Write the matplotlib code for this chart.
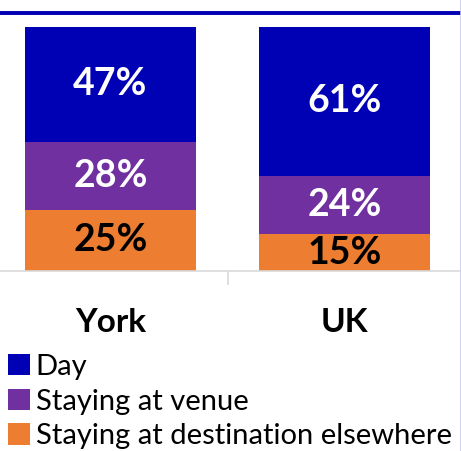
import matplotlib
matplotlib.use("Agg")
import matplotlib.pyplot as plt
from matplotlib.patches import Patch
from matplotlib.lines import Line2D

categories = ["York", "UK"]
series_names = ["Day", "Staying at venue", "Staying at destination elsewhere"]
day = [47, 61]
venue = [28, 24]
elsewhere = [25, 15]
colors = ["#0000B4", "#7030A0", "#ED7D31"]
label_colors = ["white", "white", "black"]

W, H = 461, 451
fig = plt.figure(figsize=(W / 100, H / 100), dpi=100)
plt.rcParams["font.family"] = ["Lato", "DejaVu Sans"]

ax_left, ax_right = 0, 459
ax_top, ax_bottom = 27, 271
ax = fig.add_axes([ax_left / W, 1 - ax_bottom / H, (ax_right - ax_left) / W, (ax_bottom - ax_top) / H])

x = list(range(len(categories)))
# stack from bottom: elsewhere, venue, day
stack = [(elsewhere, colors[2], label_colors[2]),
         (venue, colors[1], label_colors[1]),
         (day, colors[0], label_colors[0])]
bottoms = [0] * len(categories)
for vals, col, lc in stack:
    ax.bar(x, vals, bottom=bottoms, width=0.73, color=col, edgecolor="none")
    for xi, v, b in zip(x, vals, bottoms):
        ax.text(xi, b + v / 2, f"{v}%", ha="center", va="center", color=lc,
                fontsize=27, fontweight="bold")
    bottoms = [b + v for b, v in zip(bottoms, vals)]

ax.set_xlim(-0.472, 1.489)
ax.set_ylim(0, 100)
for s in ["top", "right", "left"]:
    ax.spines[s].set_visible(False)
ax.spines["bottom"].set_color("#D9D9D9")
ax.spines["bottom"].set_linewidth(1.2)
ax.set_yticks([])
ax.set_xticks([0.5], minor=False)
ax.set_xticks(x, minor=True)
ax.set_xticklabels([""])
ax.tick_params(axis="x", which="major", length=10, color="#D9D9D9", width=1.2)
ax.tick_params(axis="x", which="minor", length=0, pad=27, labelsize=24)
ax.set_xticklabels(categories, minor=True, fontweight="bold")

fig.add_artist(Line2D([0, 460 / W], [1 - 13 / H, 1 - 13 / H], color="#0000B4", lw=2.8, transform=fig.transFigure))
fig.add_artist(Line2D([460.5 / W, 460.5 / W], [0, 1], color="#C8C8F0", lw=1.2, transform=fig.transFigure))

handles = [Patch(facecolor=c, edgecolor="none") for c in colors]
fig.legend(handles, series_names, loc="upper left", bbox_to_anchor=(2 / W, 1 - 348 / H),
           frameon=False, fontsize=21, handlelength=0.75, handleheight=0.75,
           handletextpad=0.2, labelspacing=0.3, borderaxespad=0, borderpad=0.2)

fig.savefig("out.png", dpi=100)
